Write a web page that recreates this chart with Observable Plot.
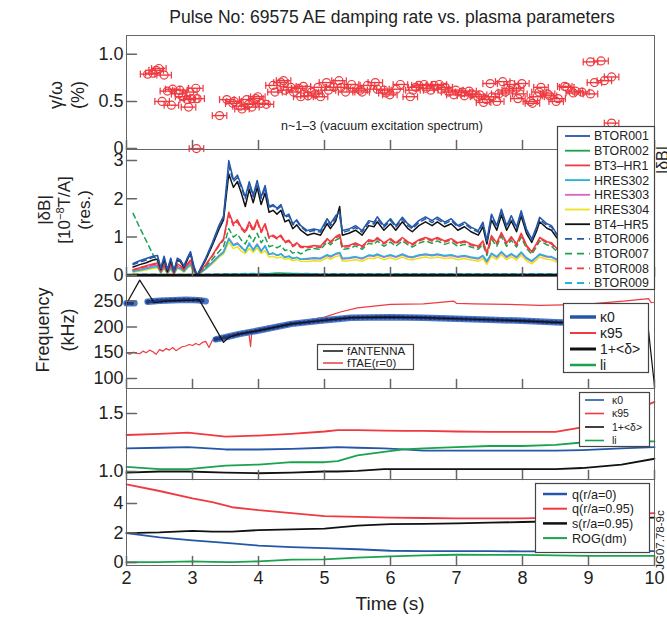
<!DOCTYPE html>
<html><head><meta charset="utf-8">
<script src="https://cdn.jsdelivr.net/npm/d3@7"></script>
<script src="https://cdn.jsdelivr.net/npm/@observablehq/plot@0.6"></script>
<style>
body{margin:0;background:#fff;font-family:"Liberation Sans",Arial,sans-serif;color:#222;}
#wrap{position:relative;width:667px;height:617px;overflow:hidden;background:#fff;}
.rl{position:absolute;white-space:nowrap;transform:translate(-50%,-50%) rotate(-90deg);line-height:1;}
.tx{position:absolute;white-space:nowrap;transform:translate(-50%,-50%);line-height:1;}
sup{font-size:0.65em;vertical-align:0.5em;line-height:0;}
</style></head>
<body><div id="wrap"></div>
<script>
// ---------------- data ----------------
const xTickVals = [2,3,4,5,6,7,8,9,10];

// panel 1: gamma/omega (%)
const gammaT = [2.32,2.40,2.45,2.49,2.57,2.54,2.62,2.68,2.70,2.79,2.81,2.85,2.92,2.94,2.96,2.99,3.05,3.07,3.06,3.41,3.52,3.61,3.63,3.72,3.75,3.82,3.85,3.90,3.96,3.99,4.04,4.12,4.22,4.25,4.34,4.38,4.40,4.49,4.53,4.61,4.64,4.68,4.75,4.80,4.86,4.90,4.94,5.03,5.06,5.14,5.22,5.25,5.32,5.41,5.45,5.54,5.57,5.65,5.77,5.80,5.90,5.93,5.99,6.09,6.15,6.30,6.34,6.38,6.43,6.51,6.54,6.61,6.66,6.74,6.77,6.83,6.88,6.96,6.99,7.09,7.12,7.19,7.23,7.32,7.35,7.41,7.45,7.51,7.54,7.61,7.64,7.70,7.74,7.80,7.83,7.91,7.93,7.96,7.99,8.12,8.15,8.22,8.25,8.28,8.38,8.41,8.51,8.54,8.64,8.67,8.77,8.80,8.90,9.03,9.09,9.03,9.19,9.24,9.35,9.35];
const gammaV = [0.79,0.80,0.83,0.85,0.78,0.50,0.61,0.46,0.63,0.58,0.62,0.55,0.52,0.44,0.60,0.53,0.64,0.53,0.00,0.35,0.52,0.48,0.50,0.45,0.42,0.52,0.47,0.44,0.53,0.55,0.48,0.47,0.67,0.60,0.70,0.72,0.62,0.65,0.60,0.64,0.55,0.66,0.56,0.60,0.58,0.65,0.55,0.70,0.62,0.65,0.72,0.65,0.60,0.68,0.64,0.62,0.60,0.67,0.70,0.63,0.62,0.59,0.57,0.63,0.68,0.55,0.62,0.65,0.67,0.68,0.64,0.62,0.67,0.68,0.63,0.65,0.60,0.57,0.62,0.60,0.56,0.61,0.58,0.55,0.57,0.49,0.52,0.69,0.55,0.50,0.58,0.71,0.60,0.62,0.68,0.64,0.53,0.58,0.69,0.50,0.48,0.55,0.60,0.65,0.58,0.56,0.50,0.53,0.66,0.65,0.59,0.61,0.60,0.58,0.70,0.92,0.93,0.72,0.76,0.27];
const gammaErrT = 0.11;

// panel 2: |dB| per coil
const t2 = [2.10,2.20,2.30,2.40,2.47,2.52,2.57,2.62,2.67,2.72,2.77,2.82,2.87,2.92,2.97,3.02,3.07,3.20,3.30,3.40,3.47,3.55,3.62,3.68,3.74,3.80,3.86,3.92,3.98,4.04,4.10,4.16,4.22,4.28,4.34,4.40,4.46,4.52,4.58,4.64,4.74,4.84,4.94,5.04,5.09,5.17,5.23,5.27,5.37,5.47,5.57,5.67,5.75,5.80,5.90,6.00,6.08,6.18,6.26,6.33,6.43,6.53,6.63,6.71,6.82,6.92,7.02,7.12,7.22,7.33,7.40,7.46,7.53,7.61,7.68,7.76,7.83,7.91,7.98,8.06,8.14,8.21,8.26,8.37,8.44,8.52,8.60];
const BTOR001 = [0.31,0.38,0.44,0.50,0.52,0.20,0.50,0.15,0.45,0.12,0.45,0.40,0.25,0.45,0.62,0.25,0.00, 0.45,0.85,1.30,1.55,3.00, 2.50,2.62,2.35,2.05,2.45,2.10,2.48,2.05,2.35,1.80,1.85,1.75,1.85,1.55,1.60,1.35,1.45,1.30, 1.17,1.21,1.17,1.48,1.35,1.56,1.65,1.17,1.21,1.30,1.17,1.43,1.39,1.53,1.30,1.48,1.30,1.52,1.35,1.26,1.43,1.53,1.43,1.52,1.39,1.48,1.30,1.39,1.26,1.17,1.39,0.91,1.60,1.30,1.73,1.30,1.56,1.26,1.69,1.21,0.95,1.26,1.52,1.35,1.30,1.08,1.15];
const BTOR006 = [0.28,0.35,0.40,0.47,0.48,0.18,0.46,0.14,0.42,0.10,0.42,0.37,0.22,0.42,0.58,0.22,0.00, 0.43,0.82,1.25,1.50,2.85, 2.45,2.55,2.30,2.00,2.38,2.05,2.40,2.00,2.28,1.78,1.82,1.72,1.80,1.52,1.56,1.32,1.42,1.27, 1.13,1.17,1.13,1.43,1.30,1.50,1.55,1.12,1.17,1.25,1.13,1.38,1.34,1.48,1.26,1.43,1.26,1.47,1.30,1.22,1.38,1.48,1.38,1.47,1.35,1.43,1.26,1.35,1.22,1.13,1.35,0.88,1.55,1.26,1.68,1.26,1.50,1.22,1.63,1.17,0.92,1.22,1.47,1.30,1.26,1.05,1.11];
const BT4HR5 = [0.22,0.28,0.33,0.40,0.42,0.15,0.42,0.10,0.38,0.10,0.40,0.35,0.20,0.40,0.58,0.20,0.00, 0.40,0.78,1.20,1.45,2.65, 2.30,2.45,2.15,1.80,2.25,1.90,2.30,1.85,2.15,1.65,1.70,1.60,1.70,1.40,1.45,1.22,1.32,1.18, 1.05,1.10,1.05,1.35,1.22,1.42,1.80,1.05,1.10,1.18,1.05,1.30,1.27,1.40,1.18,1.35,1.18,1.40,1.23,1.14,1.30,1.40,1.30,1.40,1.27,1.35,1.18,1.27,1.14,1.05,1.27,0.82,1.45,1.18,1.58,1.18,1.42,1.14,1.55,1.10,0.86,1.14,1.40,1.23,1.18,0.98,1.04];
const BT3HR1 = [0.15,0.20,0.25,0.30,0.32,0.10,0.30,0.08,0.28,0.06,0.30,0.25,0.15,0.30,0.40,0.15,0.00, 0.28,0.52,0.80,0.95,1.65, 1.35,1.45,1.25,1.15,1.40,1.20,1.45,1.15,1.35,1.00,1.05,0.98,1.05,0.88,0.92,0.78,0.85,0.76, 0.75,0.78,0.76,0.96,0.88,1.01,1.07,0.76,0.78,0.85,0.76,0.93,0.90,0.99,0.85,0.96,0.85,0.99,0.88,0.82,0.93,0.99,0.93,0.99,0.90,0.96,0.85,0.90,0.82,0.76,0.90,0.59,1.04,0.85,1.12,0.85,1.01,0.82,1.10,0.79,0.62,0.82,0.99,0.88,0.85,0.70,0.75];
const BTOR008 = [0.14,0.19,0.23,0.28,0.30,0.09,0.28,0.07,0.26,0.05,0.28,0.23,0.14,0.28,0.37,0.14,0.00, 0.27,0.50,0.77,0.92,1.58, 1.30,1.40,1.22,1.10,1.35,1.15,1.40,1.12,1.30,0.97,1.02,0.95,1.02,0.85,0.89,0.75,0.82,0.73, 0.72,0.75,0.73,0.93,0.85,0.98,1.03,0.73,0.75,0.82,0.73,0.90,0.87,0.96,0.82,0.93,0.82,0.96,0.85,0.79,0.90,0.96,0.90,0.96,0.87,0.93,0.82,0.87,0.79,0.73,0.87,0.57,1.00,0.82,1.08,0.82,0.98,0.79,1.06,0.76,0.60,0.79,0.96,0.85,0.82,0.68,0.72];
const BTOR007 = [1.62,1.25,0.90,0.55,0.35,0.12,0.40,0.10,0.42,0.08,0.40,0.35,0.15,0.42,0.55,0.18,0.00, 0.22,0.42,0.62,0.75,1.22, 1.00,1.08,0.92,0.82,1.05,0.88,1.10,0.85,1.00,0.75,0.78,0.72,0.78,0.65,0.68,0.58,0.62,0.56, 0.67,0.70,0.68,0.87,0.80,0.92,0.97,0.68,0.70,0.77,0.68,0.84,0.81,0.90,0.76,0.87,0.76,0.90,0.80,0.74,0.84,0.90,0.84,0.90,0.81,0.87,0.76,0.81,0.74,0.68,0.81,0.52,0.94,0.76,1.02,0.76,0.92,0.74,1.00,0.71,0.55,0.74,0.90,0.80,0.76,0.62,0.67];
const HRES303 = [0.12,0.16,0.20,0.25,0.27,0.08,0.25,0.06,0.22,0.05,0.24,0.20,0.12,0.24,0.32,0.12,0.00, 0.18,0.35,0.52,0.62,0.97, 0.80,0.85,0.72,0.65,0.80,0.68,0.82,0.65,0.75,0.55,0.58,0.52,0.56,0.48,0.50,0.44,0.47,0.42, 0.42,0.44,0.43,0.52,0.48,0.55,0.58,0.43,0.44,0.47,0.43,0.51,0.50,0.54,0.47,0.52,0.47,0.54,0.48,0.46,0.51,0.54,0.51,0.54,0.50,0.52,0.47,0.50,0.46,0.43,0.50,0.35,0.56,0.47,0.60,0.47,0.55,0.46,0.59,0.44,0.36,0.46,0.54,0.48,0.47,0.40,0.42];
const HRES304 = [0.08,0.11,0.14,0.18,0.20,0.05,0.18,0.04,0.16,0.03,0.18,0.15,0.08,0.18,0.25,0.08,0.00, 0.16,0.30,0.47,0.56,0.87, 0.70,0.75,0.63,0.57,0.70,0.60,0.72,0.57,0.65,0.48,0.50,0.45,0.48,0.42,0.44,0.38,0.41,0.37, 0.36,0.38,0.37,0.46,0.42,0.49,0.52,0.37,0.38,0.41,0.37,0.45,0.44,0.48,0.41,0.46,0.41,0.48,0.42,0.40,0.45,0.48,0.45,0.48,0.44,0.46,0.41,0.44,0.40,0.37,0.44,0.29,0.50,0.41,0.54,0.41,0.49,0.40,0.53,0.38,0.30,0.40,0.48,0.42,0.41,0.34,0.36];
const HRES302 = [0.10,0.13,0.17,0.21,0.23,0.07,0.21,0.05,0.19,0.04,0.20,0.17,0.10,0.20,0.28,0.10,0.00, 0.17,0.33,0.50,0.60,0.95, 0.78,0.82,0.75,0.62,0.85,0.65,0.80,0.62,0.78,0.55,0.58,0.52,0.56,0.47,0.50,0.44,0.47,0.42, 0.44,0.46,0.45,0.54,0.50,0.57,0.60,0.45,0.46,0.49,0.45,0.53,0.52,0.56,0.49,0.54,0.49,0.56,0.50,0.48,0.53,0.56,0.53,0.56,0.52,0.54,0.49,0.52,0.48,0.45,0.52,0.37,0.58,0.49,0.62,0.49,0.57,0.48,0.61,0.46,0.38,0.48,0.56,0.50,0.49,0.42,0.44];
const tZero = [2.10,3.00,3.50,4.00,4.30,4.60,5.00,6.00,7.00,8.00,8.60];
const BTOR002 = [0.01,0.01,0.02,0.03,0.06,0.04,0.02,0.02,0.02,0.02,0.02];
const BTOR009 = [0.03,0.02,0.04,0.05,0.04,0.05,0.04,0.04,0.04,0.04,0.04];

// panel 3: frequency (kHz)
const fTAE_T = [2.0,2.05,2.1,2.15,2.2,2.25,2.3,2.35,2.4,2.45,2.5,2.55,2.6,2.65,2.7,2.75,2.8,2.85,2.9,2.95,3.0,3.05,3.1,3.15,3.2,3.25,3.3,3.35,3.4,3.5,3.6,3.7,3.8,3.85,3.88,3.9,4.0,4.2,4.5,5.0,5.24,5.5,6.0,6.5,6.96,7.0,7.26,7.77,8.27,8.62,9.03,9.53,9.91,9.95,10.0];
const fTAE_V = [150,147,151,149,148,153,150,155,152,147,156,153,158,155,160,154,158,162,163,166,164,168,165,170,172,160,174,175,177,180,183,186,190,192,162,193,196,201,208,219,229,237,244,245,250,246,245,244,242,243,245,250,255,247,248];
const fAE_A_T = [2.0,2.12], fAE_A_V = [246,246];
const fAE_B_T = [2.32,2.5,2.7,2.9,3.1,3.2], fAE_B_V = [249,251,252,253,252,250];
const fAE_C_T = [3.35,3.5,3.7,4.0,4.5,5.0,5.4,6.0,6.5,7.0,7.5,8.0,8.5,9.0,9.5,9.85];
const fAE_C_V = [176,180,186,193,206,213,218,219,218,216,214,212,209,207,205,204];
const fANT_T = [2.0,2.2,2.42,2.6,2.8,3.0,3.1,3.47,3.55,3.7,4.0,4.5,5.0,5.4,6.0,6.5,7.0,7.5,8.0,8.5,9.0,9.5,9.9,10.0];
const fANT_V = [245,291,247,250,251,252,253,170,180,186,193,206,213,218,219,218,216,214,212,209,207,205,204,85];

// panel 4: shape parameters
const t4 = [2.0,2.5,2.93,3.5,4.0,4.5,5.0,5.2,5.5,5.9,6.2,6.5,7.0,7.5,8.0,8.5,8.9,9.5,10.0];
const kappa95 = [1.315,1.325,1.336,1.30,1.31,1.325,1.345,1.357,1.357,1.352,1.35,1.35,1.345,1.342,1.342,1.342,1.38,1.48,1.60];
const kappa0 = [1.20,1.205,1.21,1.19,1.19,1.195,1.205,1.21,1.205,1.20,1.19,1.18,1.18,1.18,1.18,1.18,1.185,1.20,1.21];
const li = [1.04,1.02,1.02,1.05,1.06,1.08,1.08,1.09,1.14,1.17,1.19,1.20,1.21,1.22,1.22,1.23,1.25,1.26,1.26];
const delta1 = [0.99,1.00,1.00,0.99,0.985,0.99,1.00,1.00,1.005,1.02,1.02,1.02,1.02,1.02,1.02,1.02,1.03,1.06,1.11];

// panel 5: q, s, ROG
const t5 = [2.0,2.5,3.0,3.3,3.6,4.0,4.5,5.0,5.5,6.0,6.5,7.0,7.5,8.0,8.5,9.0,9.5,10.0];
const q95 = [5.3,4.85,4.35,4.1,3.75,3.55,3.35,3.15,3.1,3.05,3.02,3.0,3.0,3.0,3.05,3.15,3.25,3.35];
const s95 = [2.0,2.05,2.15,2.1,2.1,2.2,2.25,2.3,2.5,2.6,2.62,2.65,2.7,2.75,2.8,2.9,3.0,3.05];
const q0 = [2.0,1.7,1.5,1.4,1.3,1.15,1.05,0.98,0.9,0.8,0.78,0.77,0.77,0.76,0.76,0.76,0.76,0.77];
const rog = [0.02,0.03,0.08,0.05,0.03,0.08,0.2,0.22,0.33,0.42,0.48,0.53,0.52,0.52,0.48,0.45,0.45,0.45];

// ---------------- styles ----------------
const RED="#ee3a40", BLUE="#2457a8", GREEN="#1aa34c", CYAN="#22b4dc", MAG="#d665c3", YEL="#ece21c", BLK="#111";
const FRAME="#666";
const FONT = "'Liberation Sans', Arial, sans-serif";
const wrap = document.getElementById("wrap");
const tickShape = {draw(ctx, l) { ctx.moveTo(0, 0); ctx.lineTo(0, -l); }};
const pts = (T, V) => T.map((t, i) => ({t, v: V[i]}));

function panel({top, height, yDomain, yTicks, yFmt, marks, xAxis = false, marginBottom = 0}) {
  const svg = Plot.plot({
    width: 667, height: height + marginBottom,
    marginLeft: 126, marginRight: 13, marginTop: 0, marginBottom,
    x: {domain: [2, 10], label: null, axis: null},
    y: {domain: yDomain, label: null, axis: null},
    style: {fontFamily: FONT, fontSize: "18px", background: "transparent", overflow: "visible", color: "#222"},
    marks: [
      ...marks,
      Plot.axisY(yTicks, {tickSize: 0, tickPadding: 3, tickFormat: yFmt, fontSize: 18, label: null}),
      Plot.vector(yTicks, {x: 2, y: d => d, rotate: 90, length: 10, anchor: "start", shape: tickShape, stroke: FRAME}),
      Plot.vector(xTickVals, {x: d => d, y: yDomain[0], length: 9, anchor: "start", shape: tickShape, stroke: FRAME}),
      ...(xAxis ? [Plot.axisX(xTickVals, {tickSize: 0, tickPadding: 6, fontSize: 18, label: null})] : []),
      Plot.frame({stroke: FRAME})
    ]
  });
  svg.style.position = "absolute"; svg.style.left = "0px"; svg.style.top = top + "px";
  wrap.appendChild(svg);
}

// panel 1
const gamma = pts(gammaT, gammaV);
panel({top: 35, height: 114, yDomain: [-0.01, 1.2], yTicks: [0, 0.5, 1.0], yFmt: d => d === 0 ? "0" : d.toFixed(1),
  marks: [
    Plot.ruleY(gamma, {y: "v", x1: d => d.t - gammaErrT, x2: d => d.t + gammaErrT, stroke: RED, strokeWidth: 1.4}),
    Plot.vector(gamma, {x: d => d.t - gammaErrT, y: "v", length: 6, anchor: "middle", shape: tickShape, stroke: RED, strokeWidth: 1.2}),
    Plot.vector(gamma, {x: d => d.t + gammaErrT, y: "v", length: 6, anchor: "middle", shape: tickShape, stroke: RED, strokeWidth: 1.2}),
    Plot.dot(gamma, {x: "t", y: "v", r: 4, stroke: RED, strokeWidth: 1.2, fill: "none"})
  ]});

// panel 2
const p2series = [
  [HRES304, YEL, null], [HRES303, MAG, null], [HRES302, CYAN, null],
  [BTOR007, GREEN, "5,4"], [BTOR008, RED, "5,4"], [BT3HR1, RED, null],
  [BT4HR5, BLK, null], [BTOR006, BLUE, "5,4"], [BTOR001, BLUE, null]
];
panel({top: 149, height: 127, yDomain: [-0.03, 3.29], yTicks: [0, 1, 2, 3], yFmt: d => String(d),
  marks: [
    Plot.line(pts(tZero, BTOR002), {x: "t", y: "v", stroke: GREEN, strokeWidth: 1.5}),
    Plot.line(pts(tZero, BTOR009), {x: "t", y: "v", stroke: CYAN, strokeWidth: 1.5, strokeDasharray: "5,4"}),
    ...p2series.map(([vals, c, d]) => Plot.line(pts(t2, vals), {x: "t", y: "v", stroke: c, strokeWidth: 1.5, strokeDasharray: d})),
    Plot.ruleY([0], {stroke: BLK, strokeWidth: 3})
  ]});

// panel 3
const aeSegs = [[fAE_A_T, fAE_A_V], [fAE_B_T, fAE_B_V], [fAE_C_T, fAE_C_V]];
panel({top: 276, height: 112, yDomain: [80.5, 298], yTicks: [100, 150, 200, 250], yFmt: d => String(d),
  marks: [
    Plot.line(pts(fTAE_T, fTAE_V), {x: "t", y: "v", stroke: RED, strokeWidth: 1.2}),
    ...aeSegs.map(([T, V]) => Plot.line(pts(T, V), {x: "t", y: "v", stroke: "#4a78c8", strokeWidth: 6.5})),
    ...aeSegs.map(([T, V]) => Plot.line(pts(T, V), {x: "t", y: "v", stroke: "#22397f", strokeWidth: 4, strokeDasharray: "1,3.5"})),
    Plot.line(pts(fANT_T, fANT_V), {x: "t", y: "v", stroke: BLK, strokeWidth: 1.2})
  ]});

// panel 4
panel({top: 388, height: 91, yDomain: [0.931, 1.716], yTicks: [1.0, 1.5], yFmt: d => d.toFixed(1),
  marks: [
    Plot.line(pts(t4, kappa95), {x: "t", y: "v", stroke: RED, strokeWidth: 1.8}),
    Plot.line(pts(t4, kappa0), {x: "t", y: "v", stroke: BLUE, strokeWidth: 1.8}),
    Plot.line(pts(t4, li), {x: "t", y: "v", stroke: GREEN, strokeWidth: 1.8}),
    Plot.line(pts(t4, delta1), {x: "t", y: "v", stroke: BLK, strokeWidth: 1.8})
  ]});

// panel 5
panel({top: 479, height: 86, marginBottom: 52, yDomain: [-0.2, 5.63], yTicks: [0, 2, 4], yFmt: d => String(d), xAxis: true,
  marks: [
    Plot.line(pts(t5, rog), {x: "t", y: "v", stroke: GREEN, strokeWidth: 1.8}),
    Plot.line(pts(t5, q0), {x: "t", y: "v", stroke: BLUE, strokeWidth: 1.8}),
    Plot.line(pts(t5, s95), {x: "t", y: "v", stroke: BLK, strokeWidth: 1.8}),
    Plot.line(pts(t5, q95), {x: "t", y: "v", stroke: RED, strokeWidth: 1.8})
  ]});

// ---------------- legends ----------------
function legend(o) {
  const svg = d3.create("svg").attr("width", o.w).attr("height", o.h)
    .style("position", "absolute").style("left", o.x + "px").style("top", o.y + "px").style("overflow", "visible");
  svg.append("rect").attr("x", 0.5).attr("y", 0.5).attr("width", o.w - 1).attr("height", o.h - 1)
    .attr("fill", "#fff").attr("stroke", "#444").attr("stroke-width", 1.2);
  o.names.forEach((n, i) => {
    const y = o.row0 + i * o.gap;
    svg.append("line").attr("x1", o.sx).attr("x2", o.sx + o.sw).attr("y1", y).attr("y2", y)
      .attr("stroke", o.colors[i]).attr("stroke-width", o.widths ? o.widths[i] : o.lw)
      .attr("stroke-dasharray", o.dashes ? o.dashes[i] : null);
    svg.append("text").attr("x", o.tx).attr("y", y).attr("dy", "0.36em")
      .attr("font-family", FONT).attr("font-size", o.fs).attr("fill", "#222").text(n);
  });
  wrap.appendChild(svg.node());
}
const coilNames = ["BTOR001","BTOR002","BT3\u2013HR1","HRES302","HRES303","HRES304","BT4\u2013HR5","BTOR006","BTOR007","BTOR008","BTOR009"];
const coilColors = [BLUE, GREEN, RED, CYAN, MAG, YEL, BLK, BLUE, GREEN, RED, CYAN];
const coilDash = [null,null,null,null,null,null,null,"7,5","7,5","7,5","7,5"];
legend({x: 557, y: 126, w: 98, h: 164, row0: 10, gap: 14.7, sx: 8, sw: 25, tx: 37, fs: 12.4, lw: 1.8, names: coilNames, colors: coilColors, dashes: coilDash});

const shapeNames = ["\u03ba0", "\u03ba95", "1+<\u03b4>", "li"];
const shapeColors = [BLUE, RED, BLK, GREEN];
legend({x: 563, y: 303, w: 86, h: 70, row0: 14, gap: 16, sx: 7, sw: 26, tx: 37, fs: 14, names: shapeNames, colors: shapeColors, widths: [3.5, 2, 3, 2.5]});

const freqNames = ["fANTENNA", "fTAE(r=0)"];
legend({x: 317, y: 344, w: 97, h: 26, row0: 7, gap: 12, sx: 6, sw: 20, tx: 30, fs: 11.5, lw: 1.5, names: freqNames, colors: [BLK, RED]});

legend({x: 579, y: 392, w: 71, h: 55, row0: 8, gap: 13.5, sx: 6, sw: 19, tx: 33, fs: 10.5, lw: 1.6, names: shapeNames, colors: shapeColors});

const qNames = ["q(r/a=0)", "q(r/a=0.95)", "s(r/a=0.95)", "ROG(dm)"];
legend({x: 535, y: 483, w: 115, h: 70, row0: 11, gap: 14.7, sx: 8, sw: 24, tx: 37, fs: 12.6, names: qNames, colors: [BLUE, RED, BLK, GREEN], widths: [2.5, 2, 2.5, 2]});

// ---------------- texts ----------------
function addText(cls, html, x, y, size) {
  const d = document.createElement("div");
  d.className = cls; d.innerHTML = html;
  d.style.left = x + "px"; d.style.top = y + "px"; d.style.fontSize = size + "px";
  wrap.appendChild(d);
}
addText("tx", "Pulse No: 69575 AE damping rate vs. plasma parameters", 392, 18, 17.5);
addText("tx", "n~1\u20133 (vacuum excitation spectrum)", 382, 126, 12.5);
addText("tx", "Time (s)", 390, 603, 19);
addText("rl", "\u03b3/\u03c9", 56, 95, 18);
addText("rl", "(%)", 78, 95, 18);
addText("rl", "|\u03b4B|", 44, 210, 17);
addText("rl", "[10<sup>\u22128</sup>T/A]", 64, 210, 17);
addText("rl", "(res.)", 84, 210, 17);
addText("rl", "Frequency", 43, 330, 18);
addText("rl", "(kHz)", 68, 330, 18);
addText("rl", "|\u03b4B|", 663, 160, 16);
addText("rl", "JG07.78-9c", 661, 540, 11.5);
</script></body></html>
